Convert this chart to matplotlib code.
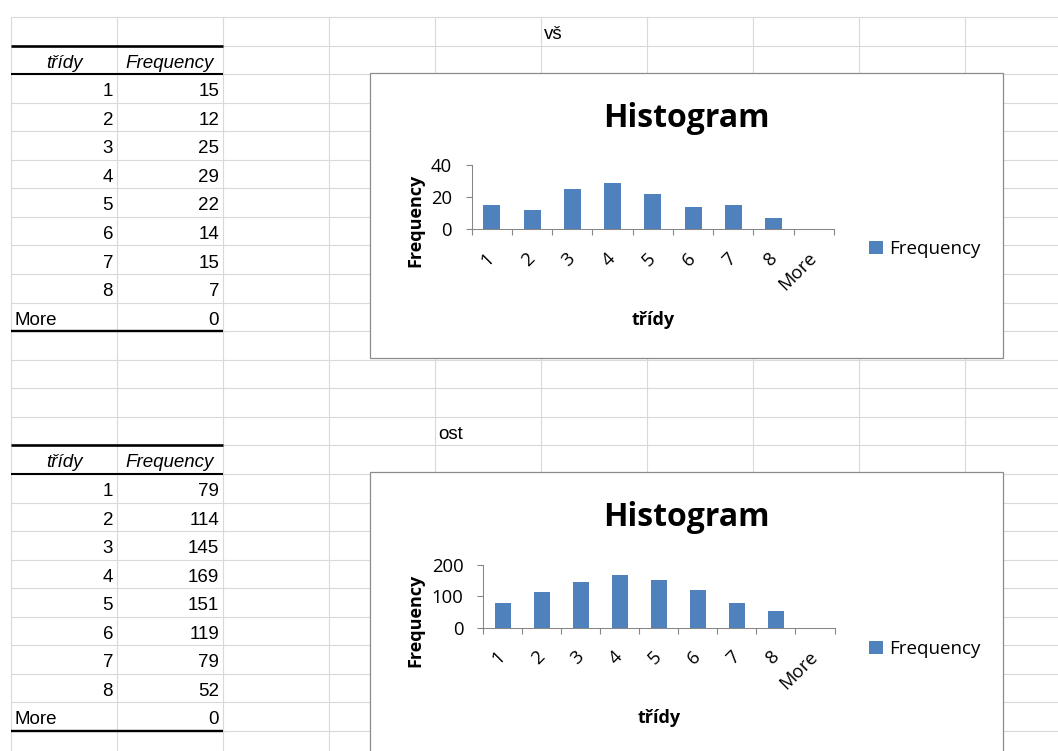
import numpy as np
import matplotlib
matplotlib.use("Agg")
import matplotlib.pyplot as plt
from matplotlib.patches import Rectangle
from matplotlib.transforms import ScaledTranslation

# --- data (read from the sheet) ---
classes = ["1", "2", "3", "4", "5", "6", "7", "8", "More"]
freq_vs = [15, 12, 25, 29, 22, 14, 15, 7, 0]
freq_ost = [79, 114, 145, 169, 151, 119, 79, 52, 0]
col_headers = ["třídy", "Frequency"]
sheet_names = ["vš", "ost"]
chart_title = "Histogram"
series_name = "Frequency"

plt.rcParams["font.family"] = ["Open Sans", "DejaVu Sans"]
cell_font = ["Liberation Sans", "DejaVu Sans"]
cell_fs = 13.5

W, H = 1058, 751
fig = plt.figure(figsize=(W / 100, H / 100), dpi=100)

# background "sheet" in pixel coordinates
bg = fig.add_axes([0, 0, 1, 1])
bg.set_xlim(0, W)
bg.set_ylim(H, 0)
bg.axis("off")

col_x = 11 + 106 * np.arange(10)
row_h = 28.56
row_y = 17 + row_h * np.arange(27)
grid_c = "#d9d9d9"
bg.vlines(col_x, 17, H, color=grid_c, lw=0.8, zorder=1)
bg.hlines(row_y, 11, W, color=grid_c, lw=0.8, zorder=1)


def draw_table(r0, values):
    # thick borders
    bg.hlines(row_y[r0], 11, 223, color="black", lw=1.9, zorder=2)
    bg.hlines(row_y[r0 + 1], 11, 223, color="black", lw=1.5, zorder=2)
    bg.hlines(row_y[r0 + 10], 11, 223, color="black", lw=1.7, zorder=2)
    base = row_y[r0 + 1] - 6.5
    bg.text(64, base, col_headers[0], ha="center", va="baseline", style="italic",
            fontsize=cell_fs, family=cell_font)
    bg.text(170, base, col_headers[1], ha="center", va="baseline", style="italic",
            fontsize=cell_fs, family=cell_font)
    for i, (c, v) in enumerate(zip(classes, values)):
        base = row_y[r0 + 2 + i] - 6.5
        if c == "More":
            bg.text(14, base, c, ha="left", va="baseline", fontsize=cell_fs, family=cell_font)
        else:
            bg.text(113, base, c, ha="right", va="baseline", fontsize=cell_fs, family=cell_font)
        bg.text(219, base, str(v), ha="right", va="baseline", fontsize=cell_fs, family=cell_font)


draw_table(1, freq_vs)
draw_table(15, freq_ost)

bg.text(544, row_y[1] - 6.5, sheet_names[0], ha="left", va="baseline", fontsize=cell_fs, family=cell_font)
bg.text(438, row_y[15] - 6.5, sheet_names[1], ha="left", va="baseline", fontsize=cell_fs, family=cell_font)

axis_c = "#868686"
shift = ScaledTranslation(3 / 100, 0, fig.dpi_scale_trans)


def draw_chart(box, plot, values, ymax, ylab_y, xlab_base, leg_y):
    bx0, by0, bx1, by1 = box
    bg.add_patch(Rectangle((bx0, by0), bx1 - bx0, by1 - by0, fc="white",
                           ec="#8c8c8c", lw=0.9, zorder=3))
    px0, py0, px1, py1 = plot
    ax = fig.add_axes([px0 / W, 1 - py1 / H, (px1 - px0) / W, (py1 - py0) / H])
    ax.set_zorder(5)
    ax.patch.set_alpha(0)
    x = np.arange(len(classes))
    ax.bar(x, values, width=0.42, color="#4F81BD", lw=0, label=series_name)
    ax.set_xlim(-0.5, len(classes) - 0.5)
    ax.set_ylim(0, ymax)
    ax.set_yticks([0, ymax / 2, ymax])
    ax.set_yticklabels([f"{t:g}" for t in [0, ymax / 2, ymax]])
    ax.set_xticks(np.arange(len(classes) + 1) - 0.5)
    ax.set_xticks(x, minor=True)
    ax.set_xticklabels(classes, minor=True, rotation=45, ha="right", va="center",
                       rotation_mode="anchor", fontsize=13.3)
    for lab in ax.get_xticklabels(minor=True):
        lab.set_transform(lab.get_transform() + shift)
    ax.tick_params(axis="x", which="major", length=4.3, color=axis_c, labelbottom=False)
    ax.tick_params(axis="x", which="minor", length=0, pad=19)
    ax.tick_params(axis="y", length=4.3, color=axis_c, pad=10, labelsize=13.3)
    for s in ["top", "right"]:
        ax.spines[s].set_visible(False)
    for s in ["left", "bottom"]:
        ax.spines[s].set_color(axis_c)
        ax.spines[s].set_linewidth(0.75)

    bg.text((bx0 + bx1) / 2, by0 + 54.2, chart_title, ha="center", va="baseline",
            fontsize=23, weight="bold", zorder=4)
    bg.text(420, ylab_y, series_name, rotation=90, rotation_mode="anchor",
            ha="center", va="baseline", fontsize=13, weight="bold", zorder=4)
    bg.text((px0 + px1) / 2, xlab_base, col_headers[0], ha="center", va="baseline",
            fontsize=13, weight="bold", zorder=4)
    ax.legend(loc="center left", bbox_to_anchor=(869 / W, 1 - leg_y / H),
              bbox_transform=fig.transFigure, frameon=False, fontsize=13.5,
              handlelength=0.75, handleheight=0.75, handletextpad=0.3,
              borderpad=0, borderaxespad=0)


draw_chart((369.5, 72.5, 1003, 358), (471.7, 165, 834, 229.3), freq_vs, 40, 220, 325, 249)
draw_chart((369.5, 472, 1003, 770), (483.3, 565, 834.5, 627.7), freq_ost, 200, 620, 723, 649)

fig.savefig("out.png", dpi=100)
